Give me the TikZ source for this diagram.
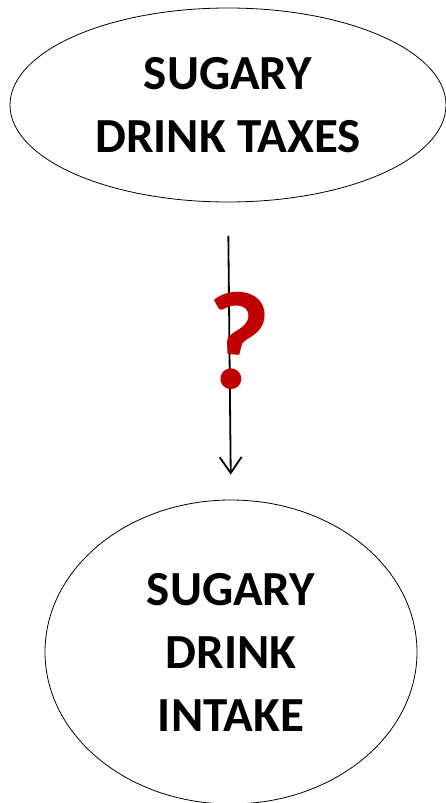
\documentclass[tikz,border=0pt]{standalone}
\usepackage{fontspec}
\setmainfont{Carlito}
\usepackage{tikz}
\usetikzlibrary{arrows.meta,positioning,shapes.geometric}

\tikzset{
  bubble/.style={draw=black,ellipse,line width=.8pt,inner sep=0pt,align=center,
    font=\fontsize{49}{63}\selectfont\bfseries},
  causal/.style={line width=1.8pt,-{Straight Barb[length=16pt,width=22pt,line width=1.8pt]}}
}

\begin{document}
\begin{tikzpicture}[x=1pt,y=-1pt,line cap=round,line join=round]
\path[use as bounding box] (0,0) rectangle (445,803);
\node[bubble,minimum width=436pt,minimum height=194pt] (taxes) at (228,105) {SUGARY\\DRINK TAXES};
\node[bubble,minimum width=372pt,minimum height=304pt] (intake) at (231,652) {SUGARY\\DRINK\\INTAKE};
\draw[causal,shorten <=34pt,shorten >=25pt] (taxes.south) -- (intake.north);
\node[font=\fontsize{140}{140}\selectfont\bfseries,text=red!75!black,inner sep=0pt,rotate=-4] (qmark) at (237,341) {?};
\end{tikzpicture}
\end{document}
